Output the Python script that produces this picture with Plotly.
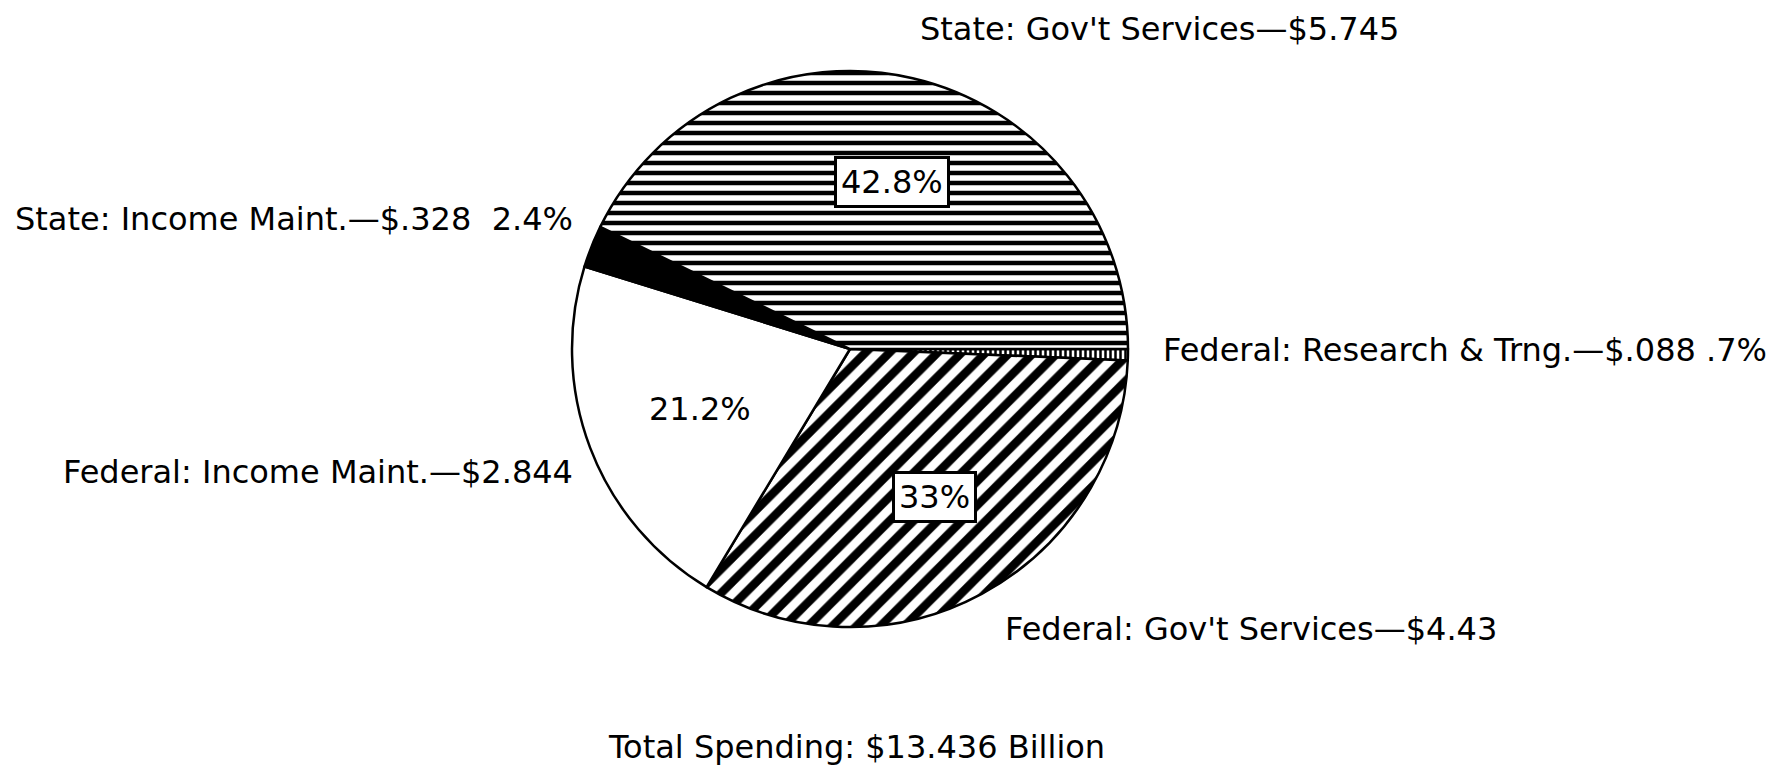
import plotly.graph_objects as go

# slices listed clockwise starting at 3 o'clock
categories = ["Federal: Research & Trng.", "Federal: Gov't Services", "Federal: Income Maint.",
              "State: Income Maint.", "State: Gov't Services"]
values = [0.088, 4.43, 2.844, 0.328, 5.745]
value_text = ["$.088", "$4.43", "$2.844", "$.328", "$5.745"]
pct_text = [".7%", "33%", "21.2%", "2.4%", "42.8%"]
total_text = "Total Spending: $13.436 Billion"

W, H = 1788, 768
cx, cy, r = 842, 341, 278
DY = -6  # annotation box centre vs. cap centre

def px(x):
    return x / W

def py(y):
    return 1 - (y + DY) / H

fig = go.Figure(go.Pie(
    labels=categories, values=values, sort=False, direction="clockwise",
    rotation=90, textinfo="none", hoverinfo="label+value+percent",
    domain=dict(x=[px(cx - r), px(cx + r)], y=[1 - (cy + r) / H, 1 - (cy - r) / H]),
    marker=dict(
        colors=["white", "white", "white", "black", "white"],
        line=dict(color="black", width=2.5),
        pattern=dict(shape=["|", "/", "", "", "-"], fgcolor="black", bgcolor="white",
                     size=[5, 17, 8, 8, 10], solidity=[0.5, 0.5, 0.3, 0.3, 0.45],
                     fillmode="replace"),
    ),
    showlegend=False,
))

font = dict(family="DejaVu Sans", size=32, color="black")
anns = [
    # outside labels: (text, x, y, xanchor)
    (f"{categories[4]}—{value_text[4]}", 1151, 27, "center"),
    (f"{categories[3]}—{value_text[3]}  {pct_text[3]}", 567, 217, "right"),
    (f"{categories[0]}—{value_text[0]} {pct_text[0]}", 1153, 348, "left"),
    (f"{categories[2]}—{value_text[2]}", 567, 470, "right"),
    (f"{categories[1]}—{value_text[1]}", 995, 627, "left"),
    (total_text, 848, 745, "center"),
]
annotations = []
for t, x, y, xa in anns:
    annotations.append(dict(text=t, x=px(x), y=py(y), xref="paper", yref="paper",
                            xanchor=xa, yanchor="middle", showarrow=False, font=font))
# inside percent labels
for t, x, y, boxed in [(pct_text[4], 884, 180, True), (pct_text[2], 692, 407, False),
                       (pct_text[1], 926, 495, True)]:
    a = dict(text=t, x=px(x), y=py(y), xref="paper", yref="paper", xanchor="center",
             yanchor="middle", showarrow=False, font=font)
    if boxed:
        a.update(bgcolor="white", bordercolor="black", borderwidth=3, borderpad=4)
    annotations.append(a)

fig.update_layout(width=W, height=H, margin=dict(l=0, r=0, t=0, b=0),
                  paper_bgcolor="white", plot_bgcolor="white", annotations=annotations)
fig.write_html("out.html")
